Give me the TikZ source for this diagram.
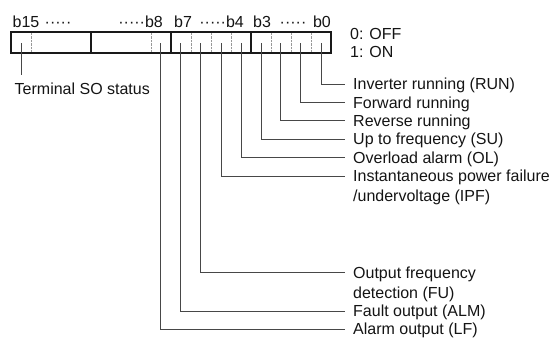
\documentclass[tikz,border=0pt]{standalone}
\usepackage{fontspec}
\setmainfont{Liberation Sans}
\begin{document}
\begin{tikzpicture}[x=1pt,y=-1pt,
  lbl/.style={anchor=base west, inner sep=0pt, align=left, text=black!92,
    font=\fontsize{16}{20}\selectfont},
  bitlbl/.style={inner sep=0pt, text=black!92, font=\fontsize{16}{20}\selectfont},
  leader/.style={line width=0.9pt, draw=black!72},
  regbox/.style={draw=black!90, line width=1.3pt, minimum width=320pt, minimum height=21pt, inner sep=0pt},
  nibble/.style={draw=black!90, line width=1.8pt},
  bitsep/.style={draw=black!40, line width=0.6pt, dash pattern=on 0.7pt off 0.7pt}]
\useasboundingbox (0,0) rectangle (551,338);

% register box
\node[regbox] (reg) at (171,42.5) {};
\foreach \x in {91,171,251} \draw[nibble] (\x,32) -- (\x,53);
\foreach \x in {31,151,191,211,231,271,291,311} \draw[bitsep] (\x,32.8) -- (\x,52.2);

% bit labels on top
\node[bitlbl, anchor=base west] (t15) at (12.5,27.5) {b15};
\node[bitlbl, anchor=base west] (t15d) at (44.5,27.5) {·····};
\node[bitlbl, anchor=base east] (t8) at (163,27.5) {·····b8};
\node[bitlbl, anchor=base west] (t7) at (174,27.5) {b7};
\node[bitlbl, anchor=base east] (t4) at (244,27.5) {·····b4};
\node[bitlbl, anchor=base west] (t3) at (253,27.5) {b3};
\node[bitlbl, anchor=base west] (t3d) at (279.5,27.5) {·····};
\node[bitlbl, anchor=base east] (t0) at (331,27.5) {b0};

\node[lbl, font=\fontsize{16}{18}\selectfont] (legend) at (350,57.7) {0: OFF\\1: ON};

% bit positions
\coordinate (bit15) at (21,43);
\coordinate (bit8) at (160,43);
\coordinate (bit7) at (180,43);
\coordinate (bit6) at (200,43);
\coordinate (bit5) at (221,43);
\coordinate (bit4) at (241,43);
\coordinate (bit3) at (261,43);
\coordinate (bit2) at (280,43);
\coordinate (bit1) at (300,43);
\coordinate (bit0) at (321,43);

% labels (multi-line nodes: base = last line)
\node[lbl] (so) at (14.5,94.5) {Terminal SO status};
\node[lbl] (run) at (353,89.7) {Inverter running (RUN)};
\node[lbl] (fwd) at (353,108.1) {Forward running};
\node[lbl] (rev) at (353,126.5) {Reverse running};
\node[lbl] (su) at (353,144.9) {Up to frequency (SU)};
\node[lbl] (ol) at (353,163.3) {Overload alarm (OL)};
\node[lbl] (ipf) at (353,201.7) {Instantaneous power failure\\/undervoltage (IPF)};
\node[lbl] (fu) at (353,298.5) {Output frequency\\detection (FU)};
\node[lbl] (alm) at (353,316.7) {Fault output (ALM)};
\node[lbl] (lf) at (353,334.7) {Alarm output (LF)};

% leaders
\draw[leader] (bit15) -- (21,75);
\draw[leader] (bit0) |- ([shift={(-8pt,5.7pt)}]run.base west);
\draw[leader] (bit1) |- ([shift={(-8pt,5.7pt)}]fwd.base west);
\draw[leader] (bit2) |- ([shift={(-8pt,5.7pt)}]rev.base west);
\draw[leader] (bit3) |- ([shift={(-8pt,5.7pt)}]su.base west);
\draw[leader] (bit4) |- ([shift={(-8pt,5.7pt)}]ol.base west);
\draw[leader] (bit5) |- ([shift={(-8pt,25.7pt)}]ipf.base west);
\draw[leader] (bit6) |- ([shift={(-8pt,25.7pt)}]fu.base west);
\draw[leader] (bit7) |- ([shift={(-8pt,5.7pt)}]alm.base west);
\draw[leader] (bit8) |- ([shift={(-8pt,5.7pt)}]lf.base west);
\end{tikzpicture}
\end{document}
